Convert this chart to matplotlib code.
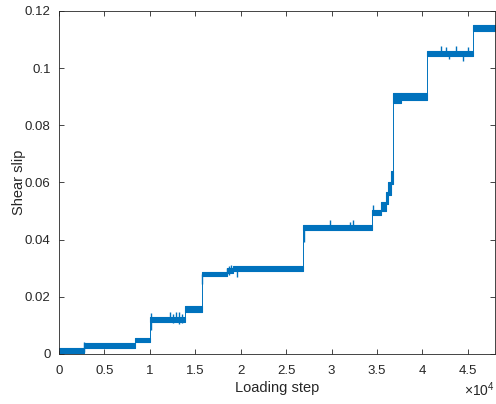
import numpy as np
import matplotlib
matplotlib.use("Agg")
import matplotlib.pyplot as plt

plt.rcParams['font.family'] = ['Liberation Sans', 'DejaVu Sans']
plt.rcParams['mathtext.fontset'] = 'custom'
plt.rcParams['mathtext.rm'] = 'Liberation Sans'
plt.rcParams['mathtext.it'] = 'Liberation Sans'

# plateaus of the slip record: start step, band low, band high
seg_start = [0, 2700, 8400, 10000, 13900, 15750, 18500, 19200, 26850,
             34500, 35400, 35950, 36270, 36500, 36750, 37600, 40550, 45600]
seg_lo = [0.0004, 0.0022, 0.0040, 0.0111, 0.0146, 0.0271, 0.0282, 0.0291, 0.0432,
          0.0486, 0.0500, 0.0525, 0.0555, 0.0595, 0.0877, 0.0889, 0.1041, 0.1131]
seg_hi = [0.0020, 0.0039, 0.0056, 0.0130, 0.0166, 0.0288, 0.0302, 0.0307, 0.0451,
          0.0504, 0.0530, 0.0565, 0.0600, 0.0640, 0.0912, 0.0914, 0.1058, 0.1151]
last_step = 48000

# isolated spikes: step, low, high
spike_x = [2250, 2760, 10100, 12240, 12570, 12900, 13230, 13560, 15770,
           18520, 18740, 18960, 19590, 26930, 29880, 32080, 32380, 34620,
           42005, 42560, 42890, 43660, 44430, 44980]
spike_lo = [0.0000, 0.0007, 0.0084, 0.0112, 0.0107, 0.0110, 0.0105, 0.0108, 0.0244,
            0.0278, 0.0276, 0.0283, 0.0270, 0.0393, 0.0440, 0.0440, 0.0440, 0.0486,
            0.1045, 0.1045, 0.1030, 0.1045, 0.1023, 0.1045]
spike_hi = [0.0012, 0.0043, 0.0143, 0.0148, 0.0140, 0.0146, 0.0145, 0.0141, 0.0280,
            0.0300, 0.0306, 0.0310, 0.0300, 0.0440, 0.0469, 0.0460, 0.0469, 0.0521,
            0.1078, 0.1075, 0.1055, 0.1078, 0.1050, 0.1072]

xticks = [0, 5000, 10000, 15000, 20000, 25000, 30000, 35000, 40000, 45000]
xtick_labels = ['0', '0.5', '1', '1.5', '2', '2.5', '3', '3.5', '4', '4.5']
yticks = [0, 0.02, 0.04, 0.06, 0.08, 0.1, 0.12]
ytick_labels = ['0', '0.02', '0.04', '0.06', '0.08', '0.1', '0.12']

blue = '#0072BD'
dark = '#262626'

fig = plt.figure(figsize=(4.96, 4.04), dpi=100)
ax = fig.add_axes([0.119, 0.124, 0.879, 0.849])

seg_end = seg_start[1:] + [last_step]
for x0, x1, lo, hi in zip(seg_start, seg_end, seg_lo, seg_hi):
    ax.fill_between([x0, x1], [lo, lo], [hi, hi], color=blue, lw=0.8, edgecolor=blue)

# thin trace joining the plateaus
mid = [(lo + hi) / 2 for lo, hi in zip(seg_lo, seg_hi)]
ax.plot(seg_start + [last_step], mid + [mid[-1]], drawstyle='steps-post', color=blue, lw=0.7)

ax.vlines(spike_x, spike_lo, spike_hi, color=blue, lw=1.0)

ax.set_xlim(0, last_step)
ax.set_ylim(0, 0.12)
ax.set_xticks(xticks)
ax.set_xticklabels(xtick_labels)
ax.set_yticks(yticks)
ax.set_yticklabels(ytick_labels)
ax.tick_params(direction='in', top=True, right=True, length=3.5, width=0.6,
               labelsize=9.5, colors=dark)
ax.tick_params(axis='x', pad=8)
ax.tick_params(axis='y', pad=6)
for s in ax.spines.values():
    s.set_color(dark)
    s.set_linewidth(0.6)

ax.set_xlabel('Loading step', fontsize=10.5, color=dark, labelpad=3)
ax.set_ylabel('Shear slip', fontsize=10.5, color=dark, labelpad=-1)
ax.text(1.0, -0.105, r'$\times10^{4}$', transform=ax.transAxes, ha='right', va='center',
        fontsize=10, color=dark)

fig.savefig('out.png', dpi=100)
